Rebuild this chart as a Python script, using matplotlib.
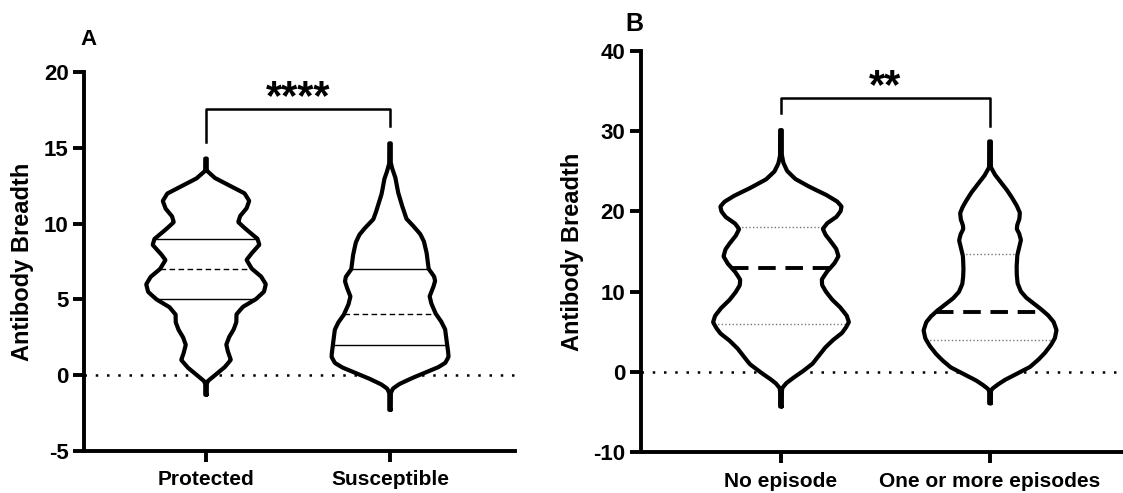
import numpy as np
import matplotlib
matplotlib.use("Agg")
import matplotlib.pyplot as plt

plt.rcParams['font.family'] = ['Liberation Sans', 'DejaVu Sans']
plt.rcParams['axes.unicode_minus'] = False

# ---- Panel A: violin outlines (value, half-width) ----
groups_a = ["Protected", "Susceptible"]

prot_y = [14.3, 13.5, 13.0, 12.5, 12.0, 11.5, 11.0, 10.5, 10.1, 9.6, 9.0, 8.6, 8.0,
          7.6, 7.0, 6.5, 6.0, 5.5, 5.0, 4.5, 4.0, 3.5, 3.0, 2.5, 2.0, 1.5, 1.0,
          0.5, 0.0, -0.4, -0.6, -1.3]
prot_w = [0.0, 0.004, 0.05, 0.13, 0.21, 0.235, 0.22, 0.185, 0.175, 0.22, 0.28, 0.29, 0.245,
          0.22, 0.25, 0.30, 0.325, 0.315, 0.27, 0.2, 0.165, 0.165, 0.15, 0.125, 0.11, 0.12, 0.135,
          0.1, 0.05, 0.01, 0.004, 0.0]

susc_y = [15.3, 14.0, 13.5, 13.0, 12.0, 11.0, 10.3, 9.8, 9.3, 8.8, 8.0, 7.5, 7.0,
          6.5, 6.2, 5.8, 5.2, 4.7, 4.0, 3.5, 3.0, 2.5, 2.0, 1.5, 1.2, 0.8, 0.5,
          0.2, -0.2, -0.6, -0.9, -1.2, -2.3]
susc_w = [0.0, 0.004, 0.015, 0.03, 0.045, 0.07, 0.09, 0.13, 0.165, 0.185, 0.2, 0.205, 0.21,
          0.24, 0.245, 0.235, 0.215, 0.225, 0.25, 0.28, 0.3, 0.305, 0.31, 0.316, 0.318, 0.3, 0.26,
          0.2, 0.12, 0.05, 0.015, 0.004, 0.0]

# quartiles (q1, median, q3)
quart_a = [(5, 7, 9), (2, 4, 7)]

# ---- Panel B ----
groups_b = ["No episode", "One or more episodes"]

noep_y = [30.1, 27.0, 26.0, 25.0, 24.0, 23.0, 22.0, 21.2, 20.6, 20.0, 19.3, 18.5, 17.8,
          17.0, 16.2, 15.3, 14.4, 13.5, 12.5, 11.5, 10.8, 10.0, 9.0, 8.0, 7.0, 6.2,
          5.5, 4.8, 4.0, 3.0, 2.0, 1.0, 0.0, -0.8, -1.4, -2.0, -2.5, -4.3]
noep_w = [0.0, 0.004, 0.012, 0.03, 0.07, 0.14, 0.22, 0.27, 0.29, 0.285, 0.265, 0.22, 0.2,
          0.215, 0.24, 0.265, 0.275, 0.255, 0.22, 0.195, 0.197, 0.215, 0.245, 0.285, 0.315, 0.325,
          0.31, 0.29, 0.25, 0.21, 0.18, 0.15, 0.1, 0.055, 0.025, 0.006, 0.004, 0.0]

more_y = [28.7, 25.5, 24.5, 23.5, 22.5, 21.5, 20.6, 19.8, 19.0, 18.3, 17.8, 17.2, 16.4,
          15.5, 14.5, 13.0, 12.0, 11.0, 10.0, 9.2, 8.5, 7.8, 7.0, 6.2, 5.2, 4.2,
          3.3, 2.3, 1.5, 0.6, -0.2, -1.0, -1.6, -2.1, -2.4, -3.9]
more_w = [0.0, 0.004, 0.025, 0.055, 0.085, 0.11, 0.13, 0.143, 0.14, 0.13, 0.128, 0.14, 0.148,
          0.14, 0.13, 0.127, 0.128, 0.132, 0.148, 0.175, 0.21, 0.245, 0.28, 0.305, 0.318, 0.31,
          0.29, 0.26, 0.23, 0.19, 0.13, 0.07, 0.035, 0.01, 0.004, 0.0]

quart_b = [(6, 13, 18), (4, 7.5, 14.7)]


def smooth_outline(ys, ws, step=0.02, k=7):
    """Resample outline on a fine grid and soften the corners."""
    ys = np.asarray(ys, float)[::-1]
    ws = np.asarray(ws, float)[::-1]
    grid = np.arange(ys[0], ys[-1] + step / 2, step)
    w = np.interp(grid, ys, ws)
    kern = np.ones(k) / k
    for _ in range(2):
        pad = np.concatenate([np.full(k, w[0]), w, np.full(k, w[-1])])
        w = np.convolve(pad, kern, mode="same")[k:-k]
    w = np.maximum(w, 0.004)
    return grid, w


def draw_violin(ax, pos, ys, ws, quart, span, lw=3.0, style="A"):
    grid, w = smooth_outline(ys, ws, step=span / 2000)
    ax.fill_betweenx(grid, pos - w, pos + w, color="white", lw=0, zorder=2)
    xx = np.concatenate([pos + w, (pos - w)[::-1], [pos + w[0]]])
    yy = np.concatenate([grid, grid[::-1], [grid[0]]])
    ax.plot(xx, yy, color="black", lw=lw, solid_joinstyle="round",
            solid_capstyle="round", zorder=4)
    q1, med, q3 = quart
    for val, kind in [(q1, "q"), (med, "m"), (q3, "q")]:
        half = np.interp(val, grid, w)
        if style == "A":
            ls = (0, (4, 2.5)) if kind == "m" else "-"
            ax.plot([pos - half, pos + half], [val, val], color="black",
                    lw=1.0, ls=ls, zorder=3)
        else:
            if kind == "m":
                ax.plot([pos - half, pos + half], [val, val], color="black",
                        lw=2.8, ls=(0, (4.5, 2.5)), zorder=3)
            else:
                ax.plot([pos - half, pos + half], [val, val], color="#777777",
                        lw=1.0, ls=(0, (1, 1.6)), zorder=3)


def style_axes(ax, ylim, yticks, xlim, labels):
    ax.set_xlim(*xlim)
    ax.set_ylim(*ylim)
    ax.set_yticks(yticks)
    ax.set_yticklabels([str(t) for t in yticks])
    ax.set_xticks([0, 1])
    ax.set_xticklabels(labels)
    for s in ["top", "right"]:
        ax.spines[s].set_visible(False)
    for s in ["left", "bottom"]:
        ax.spines[s].set_linewidth(2.8)
    ax.tick_params(axis="both", width=2.8, length=8)
    ax.tick_params(axis="y", labelsize=16, pad=3)
    ax.tick_params(axis="x", labelsize=15, pad=6)
    for t in ax.get_xticklabels() + ax.get_yticklabels():
        t.set_fontweight("bold")
    ax.set_ylabel("Antibody Breadth", fontsize=17, fontweight="bold", labelpad=7)
    ax.axhline(0, color="black", lw=1.8, ls=(0, (1, 3.5)), zorder=1)
    ax.patch.set_alpha(0)


def bracket(ax, y_top, y_left, y_right, text, ty, fs):
    ax.plot([0, 0, 1, 1], [y_left, y_top, y_top, y_right], color="black",
            lw=1.8, zorder=3, clip_on=False)
    ax.text(0.5, ty, text, ha="center", va="center", fontsize=fs,
            fontweight="bold")


fig = plt.figure(figsize=(11.23, 4.93), dpi=100)

axA = fig.add_axes([84 / 1123, (493 - 450.7) / 493, (515 - 84) / 1123, (450.7 - 72.3) / 493])
draw_violin(axA, 0, prot_y, prot_w, quart_a[0], 16, style="A")
draw_violin(axA, 1, susc_y, susc_w, quart_a[1], 18, style="A")
style_axes(axA, (-5, 20), [-5, 0, 5, 10, 15, 20], (-0.663, 1.679), groups_a)
bracket(axA, 17.6, 15.4, 16.45, "****", 18.3, 30)

axB = fig.add_axes([640.7 / 1123, (493 - 452.3) / 493, (1123 - 640.7) / 1123, (452.3 - 50.7) / 493])
draw_violin(axB, 0, noep_y, noep_w, quart_b[0], 34, style="B")
draw_violin(axB, 1, more_y, more_w, quart_b[1], 33, style="B")
style_axes(axB, (-10, 40), [-10, 0, 10, 20, 30, 40], (-0.671, 1.636), groups_b)
bracket(axB, 34.1, 32.2, 30.6, "**", 35.5, 30)

fig.text(80 / 1123, 1 - 45 / 493, "A", fontsize=16, fontweight="bold", ha="left", va="baseline")
fig.text(625 / 1123, 1 - 31 / 493, "B", fontsize=18, fontweight="bold", ha="left", va="baseline")

fig.savefig("out.png", dpi=100)
